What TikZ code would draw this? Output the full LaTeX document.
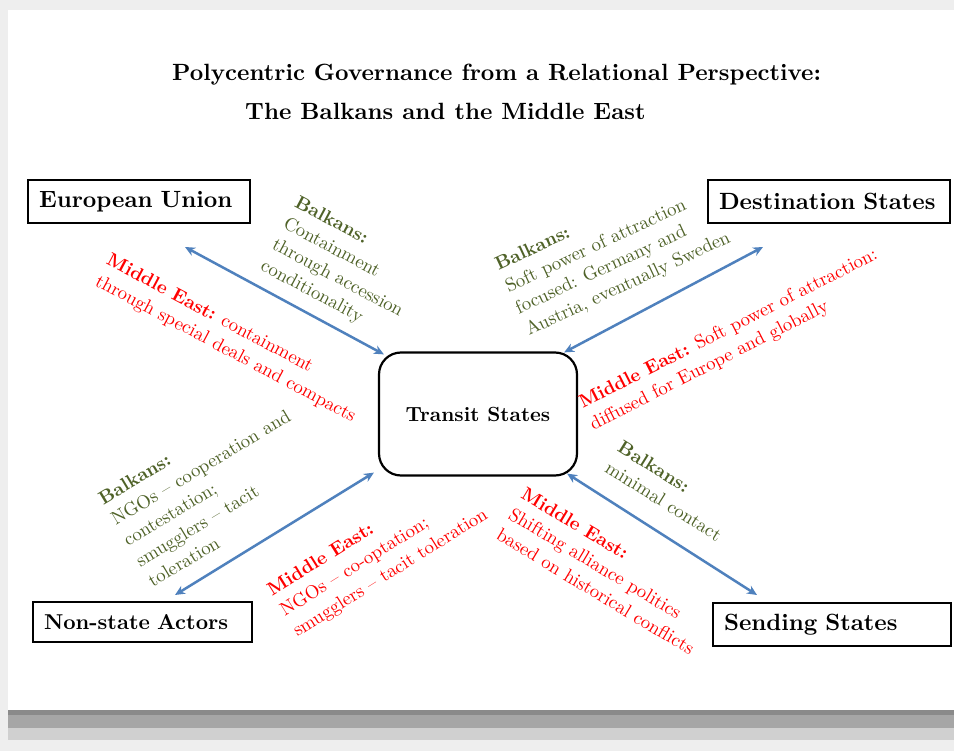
\documentclass[tikz,border=0pt]{standalone}
\usepackage{fontspec}
\setmainfont{lmroman10-regular.otf}[BoldFont=lmroman10-bold.otf, ItalicFont=lmroman10-italic.otf, BoldItalicFont=lmroman10-bolditalic.otf]
\usetikzlibrary{arrows.meta}
\definecolor{olivetxt}{RGB}{79,98,40}
\definecolor{redtxt}{RGB}{255,0,0}
\definecolor{arrblue}{RGB}{79,129,189}
\definecolor{band1}{RGB}{138,138,138}
\definecolor{band2}{RGB}{166,166,166}
\definecolor{band3}{RGB}{208,208,208}
\definecolor{band4}{RGB}{238,238,238}
\begin{document}
\begin{tikzpicture}[x=1pt,y=-1pt]
\tikzset{
  entbox/.style={draw=black, line width=2.2pt, inner xsep=11pt, inner ysep=0pt,
    minimum height=43pt, align=left, font=\fontsize{23.5}{28}\selectfont\bfseries},
  note/.style={inner sep=0pt, align=left, font=\fontsize{18.8}{24}\selectfont},
  bal/.style={note, text=olivetxt},
  mde/.style={note, text=redtxt},
  link/.style={arrblue, line width=2.5pt, {Stealth[length=10pt,width=9pt]}-{Stealth[length=10pt,width=9pt]}},
  ttl/.style={anchor=base west, inner sep=0pt, font=\fontsize{23.5}{28}\selectfont\bfseries}
}
\useasboundingbox (0,0) rectangle (954,751);
% background frame
\fill[white] (0,0) rectangle (954,751);
\fill[band4] (0,0) rectangle (954,10);
\fill[band4] (0,0) rectangle (8,751);
\fill[band1] (8,710) rectangle (954,715);
\fill[band2] (8,715) rectangle (954,728);
\fill[band3] (8,728) rectangle (954,740);
\fill[band4] (0,740) rectangle (954,751);

% title
\node[ttl] (t1) at (172,81) {Polycentric Governance from a Relational Perspective:};
\node[ttl] (t2) at (245,120) {The Balkans and the Middle East};

% entities
\node[entbox, text width=200pt] (eu) at (139,201.5) {European Union};
\node[entbox, text width=220pt] (dest) at (829,201.5) {Destination States};
\node[entbox, text width=197pt, minimum height=40pt, font=\fontsize{21.5}{26}\selectfont\bfseries] (nsa) at (142.5,622) {Non-state Actors};
\node[entbox, text width=216pt] (send) at (832,624.5) {Sending States};
\node[draw=black, line width=2.2pt, rounded corners=22pt, minimum width=198pt,
  minimum height=123pt, inner sep=0pt, font=\fontsize{20.5}{24}\selectfont\bfseries]
  (ts) at (478,414) {Transit States};

% arrow ends
\coordinate (euT) at (185,247);
\coordinate (destT) at (763,247);
\coordinate (nsaT) at (175,595);
\coordinate (sendT) at (757,595);
\draw[link] (euT) -- ([shift={(6,3)}]ts.north west);
\draw[link] (destT) -- ([shift={(-14,1)}]ts.north east);
\draw[link] (nsaT) -- ([shift={(-4,-4)}]ts.south west);
\draw[link] (sendT) -- ([shift={(-11,-3)}]ts.south east);

% relation labels
\node[bal, rotate=-28] (eB) at (343,268) {\textbf{Balkans:}\\Containment\\through accession\\conditionality};
\node[mde, rotate=-28] (eM) at (231,339) {\textbf{Middle East:} containment\\through special deals and compacts};
\node[bal, rotate=25] (dB) at (613,252) {\textbf{Balkans:}\\Soft power of attraction\\focused: Germany and\\Austria, eventually Sweden};
\node[mde, rotate=27] (dM) at (734,340) {\textbf{Middle East:} Soft power of attraction:\\diffused for Europe and globally};
\node[bal, rotate=31] (nB) at (213,488) {\textbf{Balkans:}\\NGOs – cooperation and\\contestation;\\smugglers – tacit\\toleration};
\node[mde, rotate=32] (nM) at (378,553) {\textbf{Middle East:}\\NGOs – co-optation;\\smugglers – tacit toleration};
\node[bal, rotate=-32] (sB) at (670,491) {\textbf{Balkans:}\\minimal contact};
\node[mde, rotate=-31] (sM) at (608,571) {\textbf{Middle East:}\\Shifting alliance politics\\based on historical conflicts};
\end{tikzpicture}
\end{document}
